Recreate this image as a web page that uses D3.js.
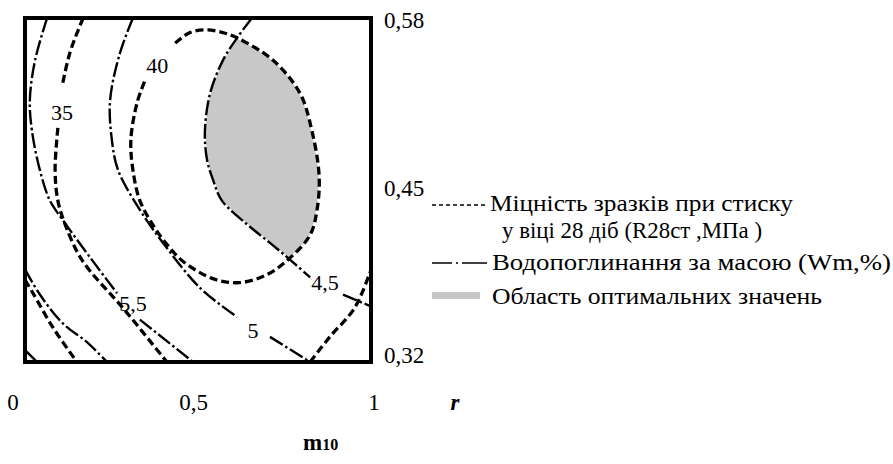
<!DOCTYPE html>
<html>
<head>
<meta charset="utf-8">
<script src="https://cdn.jsdelivr.net/npm/d3@7"></script>
<style>
  body { margin: 0; background: #fff; }
  svg { display: block; }
  svg text { font-family: "Liberation Serif", "Times New Roman", serif; }
</style>
</head>
<body>
<div id="vis"></div>
<script>
// tick labels
let xTicks = [0, 0.5, 1];
let xTickText = ['0', '0,5', '1'];
let yTicks = [0.32, 0.45, 0.58];
let yTickText = ['0,32', '0,45', '0,58'];

// contour lines, [r, m10]; null = gap for a label
// strength R28 (dashed)
let r35 = [[0.168,0.580],[0.130,0.554],[0.107,0.528],null,[0.095,0.497],[0.087,0.465],[0.095,0.442],
  [0.116,0.424],[0.165,0.397],[0.289,0.359],[0.410,0.320]];
let r40 = [[0.434,0.561],[0.477,0.569],[0.526,0.571],[0.572,0.569],[0.613,0.565],[0.717,0.548],
  [0.795,0.523],[0.829,0.495],[0.850,0.461],[0.844,0.435],[0.824,0.416],[0.763,0.398],[0.699,0.386],
  [0.621,0.380],[0.543,0.383],[0.457,0.396],[0.413,0.408],[0.376,0.421],[0.332,0.442],[0.312,0.465],
  [0.306,0.488],[0.324,0.516],[0.347,0.533]];
let rLowLeft = [[0,0.382],[0.023,0.372],[0.081,0.346],[0.150,0.320]];
let rLowRight = [[0.824,0.320],[0.881,0.339],[0.948,0.359],[0.977,0.374],[0.997,0.388]];

// water absorption Wm (dash-dot)
let wm55 = [[0.064,0.580],[0.029,0.548],[0.014,0.518],[0.020,0.495],[0.043,0.465],[0.072,0.442],
  [0.110,0.427],[0.194,0.397],[0.266,0.372],null,[0.332,0.352],[0.486,0.320]];
let wm5 = [[0.312,0.580],[0.275,0.554],[0.246,0.518],[0.251,0.488],[0.269,0.465],[0.332,0.435],
  [0.399,0.410],[0.506,0.376],[0.613,0.354],null,[0.708,0.339],[0.824,0.320]];
let wm45 = [[0.656,0.580],[0.613,0.565],[0.572,0.548],[0.535,0.523],[0.520,0.495],[0.526,0.473],
  [0.543,0.458],[0.569,0.442],[0.642,0.424],[0.708,0.410],[0.763,0.398],[0.824,0.384],null,
  [0.919,0.371],[1.0,0.362]];
let wmLowLeft = [[0,0.390],[0.043,0.371],[0.110,0.349],[0.179,0.335],[0.237,0.320]];
let wmCorner = [[0,0.329],[0.035,0.320]];

// contour labels
let labels = [
  {text: '35', r: 0.107, m: 0.509},
  {text: '40', r: 0.382, m: 0.544},
  {text: '5,5', r: 0.312, m: 0.364},
  {text: '5', r: 0.659, m: 0.344},
  {text: '4,5', r: 0.867, m: 0.380}
];

let legendText = [
  ['Міцність зразків при стиску', 'у віці 28 діб (R28ст ,МПа )'],
  ['Водопоглинання за масою (Wm,%)'],
  ['Область оптимальних значень']
];

let W = 893, H = 464;
let svg = d3.select('#vis').append('svg')
  .attr('width', W).attr('height', H)
  .style('background-color', 'white');

let x = d3.scaleLinear().domain([0, 1]).range([25, 371]);
let y = d3.scaleLinear().domain([0.32, 0.58]).range([362, 18]);
// tick labels sit slightly off the frame in the original
let xl = d3.scaleLinear().domain([0, 1]).range([13, 374]);
let yl = d3.scaleLinear().domain([0.32, 0.58]).range([355, 20]);

let line = d3.line()
  .defined(d => d)
  .x(d => x(d[0])).y(d => y(d[1]))
  .curve(d3.curveCatmullRom.alpha(0.5));

svg.append('clipPath').attr('id', 'clip')
  .append('rect').attr('x', 25).attr('y', 18).attr('width', 346).attr('height', 344);
let plot = svg.append('g').attr('clip-path', 'url(#clip)');

// optimum region: between the 4,5 line and the right side of the 40 contour
let leftEdge = wm45.slice(1, 11);
let rightEdge = r40.slice(4, 12).reverse();
let areaPath = line(leftEdge) + line(rightEdge).replace(/^M/, 'L') + 'Z';
plot.append('path')
  .attr('d', areaPath)
  .attr('fill', '#c8c8c8')
  .attr('stroke', 'white')
  .attr('stroke-width', 1.5);

let dashed = '8,4';
let dashDot = '15,3,2.5,3';

[r35, r40, rLowLeft, rLowRight].forEach(c => {
  plot.append('path').attr('d', line(c))
    .attr('fill', 'none').attr('stroke', 'black')
    .attr('stroke-width', 3.3).attr('stroke-dasharray', dashed);
});
[wm55, wm5, wm45, wmLowLeft, wmCorner].forEach(c => {
  plot.append('path').attr('d', line(c))
    .attr('fill', 'none').attr('stroke', 'black')
    .attr('stroke-width', 2.4).attr('stroke-dasharray', dashDot);
});

plot.selectAll('.clabel').data(labels).enter().append('text')
  .attr('class', 'clabel')
  .attr('x', d => x(d.r)).attr('y', d => y(d.m))
  .attr('dy', '0.35em')
  .attr('text-anchor', 'middle')
  .style('font-size', '22px')
  .text(d => d.text);

// frame
svg.append('rect')
  .attr('x', 25).attr('y', 18).attr('width', 346).attr('height', 344)
  .attr('fill', 'none').attr('stroke', 'black').attr('stroke-width', 4);

// tick labels
svg.selectAll('.xt').data(xTicks).enter().append('text')
  .attr('class', 'xt')
  .attr('x', d => xl(d)).attr('y', 410)
  .attr('text-anchor', 'middle')
  .style('font-size', '23px')
  .text((d, i) => xTickText[i]);

svg.selectAll('.yt').data(yTicks).enter().append('text')
  .attr('class', 'yt')
  .attr('x', 384).attr('y', d => yl(d))
  .attr('dy', '0.35em')
  .style('font-size', '23px')
  .text((d, i) => yTickText[i]);

svg.append('text').attr('x', 455).attr('y', 410)
  .attr('text-anchor', 'middle')
  .style('font-size', '23px').style('font-weight', 'bold').style('font-style', 'italic')
  .text('r');

let mLab = svg.append('text').attr('x', 303).attr('y', 450)
  .style('font-weight', 'bold');
mLab.append('tspan').style('font-size', '23px').text('m');
mLab.append('tspan').style('font-size', '16px').text('10');

// legend (original typeface is wider, so stretch to the measured widths)
let lg = svg.append('g').style('font-size', '23px');
lg.append('line').attr('x1', 432).attr('x2', 486).attr('y1', 205).attr('y2', 205)
  .attr('stroke', 'black').attr('stroke-width', 1.5).attr('stroke-dasharray', '4,3');
lg.append('text').attr('x', 490).attr('y', 211)
  .attr('textLength', 303).attr('lengthAdjust', 'spacingAndGlyphs').text(legendText[0][0]);
lg.append('text').attr('x', 502).attr('y', 238)
  .attr('textLength', 260).attr('lengthAdjust', 'spacingAndGlyphs').text(legendText[0][1]);

lg.append('line').attr('x1', 432).attr('x2', 487).attr('y1', 263).attr('y2', 263)
  .attr('stroke', 'black').attr('stroke-width', 1.5).attr('stroke-dasharray', '20,4,2,4,25');
lg.append('text').attr('x', 492).attr('y', 270)
  .attr('textLength', 399).attr('lengthAdjust', 'spacingAndGlyphs').text(legendText[1][0]);

lg.append('rect').attr('x', 432).attr('y', 292).attr('width', 48).attr('height', 7)
  .attr('fill', '#c8c8c8');
lg.append('text').attr('x', 492).attr('y', 304)
  .attr('textLength', 330).attr('lengthAdjust', 'spacingAndGlyphs').text(legendText[2][0]);
</script>
</body>
</html>
